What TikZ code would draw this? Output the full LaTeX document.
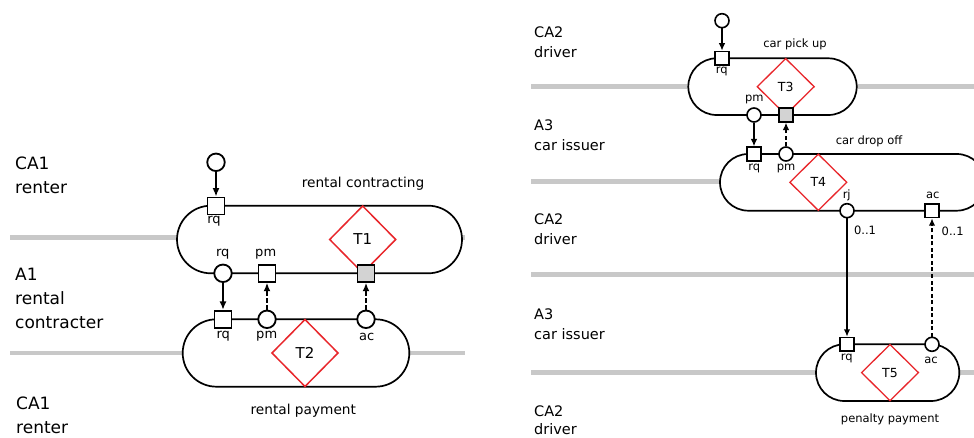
\documentclass[tikz,border=0pt]{standalone}
\usepackage{fontspec}
\setmainfont{DejaVu Sans}
\usetikzlibrary{arrows.meta,shapes.geometric}
\definecolor{lanegrey}{HTML}{C8C8C8}
\definecolor{tred}{HTML}{E8262B}
\definecolor{actgrey}{HTML}{D3D3D3}
\tikzset{
  lane/.style={line width=4.5pt, draw=lanegrey},
  oval/.style={draw, line width=1.7pt, fill=white},
  sqL/.style={draw, line width=1.8pt, fill=white, minimum size=17pt, inner sep=0pt},
  ciL/.style={circle, draw, line width=1.8pt, fill=white, minimum size=17.5pt, inner sep=0pt},
  sqR/.style={draw, line width=1.6pt, fill=white, minimum size=13.5pt, inner sep=0pt},
  ciR/.style={circle, draw, line width=1.6pt, fill=white, minimum size=14pt, inner sep=0pt},
  trL/.style={diamond, draw=tred, line width=1.5pt, inner sep=0pt, minimum width=66.6pt, minimum height=67.6pt, font=\fontsize{15}{18}\selectfont},
  trR/.style={diamond, draw=tred, line width=1.3pt, inner sep=0pt, minimum width=57.4pt, minimum height=56.7pt, font=\fontsize{12.5}{15}\selectfont},
  arrL/.style={-{Latex[length=8.5pt,width=7pt]}, line width=2.4pt},
  darrL/.style={-{Latex[length=8.5pt,width=7pt]}, line width=2pt, dash pattern=on 4.5pt off 2.5pt},
  arrR/.style={-{Latex[length=7.5pt,width=6.5pt]}, line width=2.1pt},
  darrR/.style={-{Latex[length=7.5pt,width=6.5pt]}, line width=1.7pt, dash pattern=on 4pt off 2.5pt},
  lblL/.style={font=\fontsize{13}{15}\selectfont, inner sep=0pt},
  lblR/.style={font=\fontsize{11.5}{14}\selectfont, inner sep=0pt},
  laneL/.style={font=\fontsize{17}{24}\selectfont, align=left, anchor=north west, inner sep=0pt},
  laneR/.style={font=\fontsize{14.5}{20}\selectfont, align=left, anchor=north west, inner sep=0pt},
}
\begin{document}
\begin{tikzpicture}[x=1pt,y=-1pt]
\useasboundingbox (0,0) rectangle (974,438);
% ---------------- left panel ----------------
\draw[lane] (10,237.7) -- (465,237.7);
\draw[lane] (10,353) -- (465,353);
\node[laneL] (la1) at (15,156.7) {CA1\\renter};
\node[laneL] (la2) at (15,268.3) {A1\\rental\\contracter};
\node[laneL] (la3) at (16,396.7) {CA1\\renter};
\draw[oval, rounded corners=33.8pt] (177,205.7) rectangle (462,273.3);
\draw[oval, rounded corners=33.7pt] (182.7,319.3) rectangle (409.3,386.7);
\node[trL] (T1) at (362.7,239.5) {T1};
\node[trL] (T2) at (305,353) {T2};
\node[lblL, font=\fontsize{13.7}{16}\selectfont] (n1) at (363,183.3) {rental contracting};
\node[lblL, font=\fontsize{13.7}{16}\selectfont] (n2) at (303.3,410.7) {rental payment};
\node[ciL] (i1) at (216,162.3) {};
\node[sqL] (rq1) at (216,206) {};
\node[ciL] (rq2) at (223,273.3) {};
\node[sqL] (pm1) at (267,273.3) {};
\node[sqL, fill=actgrey] (ac1) at (366,273.3) {};
\node[sqL] (rq3) at (223,319.3) {};
\node[ciL] (pm2) at (267,319.3) {};
\node[ciL] (ac2) at (366,319.3) {};
\node[lblL] at (214,221.7) {rq};
\node[lblL] at (222.7,254.3) {rq};
\node[lblL] at (265.7,254.3) {pm};
\node[lblL] at (223.3,336.7) {rq};
\node[lblL] at (266.7,336.7) {pm};
\node[lblL] at (366.7,336.7) {ac};
\draw[arrL] (i1) -- (rq1);
\draw[arrL] (rq2) -- (rq3);
\draw[darrL] (pm2) -- (pm1);
\draw[darrL] (ac2) -- (ac1);
% ---------------- right panel ----------------
\draw[lane] (531,86.7) -- (974,86.7);
\draw[lane] (531,181.7) -- (974,181.7);
\draw[lane] (531,274.3) -- (974,274.3);
\draw[lane] (531,372.3) -- (974,372.3);
\node[laneR] (lb1) at (534,26.7) {CA2\\driver};
\node[laneR] (lb2) at (534,119.5) {A3\\car issuer};
\node[laneR] (lb3) at (534,213.3) {CA2\\driver};
\node[laneR] (lb4) at (534,309) {A3\\car issuer};
\node[laneR, font=\fontsize{14.5}{18.5}\selectfont] (lb5) at (534,405.5) {CA2\\driver};
\draw[oval, rounded corners=28.3pt] (688.3,58.3) rectangle (856.7,115);
\draw[oval, rounded corners=28.3pt] (720,154) rectangle (985,210.7);
\draw[oval, rounded corners=28.3pt] (816,344.3) rectangle (959.3,401);
\node[trR] (T3) at (785.7,86.7) {T3};
\node[trR] (T4) at (818.3,182.3) {T4};
\node[trR] (T5) at (890,372.6) {T5};
\node[lblR] (n3) at (795,44.3) {car pick up};
\node[lblR] (n4) at (869,141.7) {car drop off};
\node[lblR] (n5) at (890,419.3) {penalty payment};
\node[ciR] (i2) at (722,20.7) {};
\node[sqR] (rq4) at (722,58.3) {};
\node[ciR] (pm4) at (754,115) {};
\node[sqR, fill=actgrey] (ac4) at (786,115) {};
\node[sqR] (rq5) at (754,154) {};
\node[ciR] (pm5) at (786,154) {};
\node[ciR] (rj5) at (847,210.7) {};
\node[sqR] (ac5) at (932,210.7) {};
\node[sqR] (rq6) at (847,344.3) {};
\node[ciR] (ac6) at (932,344.3) {};
\node[lblR] at (721.7,71) {rq};
\node[lblR] at (754.3,99.3) {pm};
\node[lblR] at (754.3,168.3) {rq};
\node[lblR] at (786,168.3) {pm};
\node[lblR] at (846.7,195) {rj};
\node[lblR] at (932.7,195) {ac};
\node[lblR] at (846.7,358.3) {rq};
\node[lblR] at (931,360) {ac};
\node[lblR] (m1) at (865,230) {0..1};
\node[lblR] (m2) at (952.7,231) {0..1};
\draw[arrR] (i2) -- (rq4);
\draw[arrR] (pm4) -- (rq5);
\draw[darrR] (pm5) -- (ac4);
\draw[arrR] (rj5) -- (rq6);
\draw[darrR] (ac6) -- (ac5);
\end{tikzpicture}
\end{document}
